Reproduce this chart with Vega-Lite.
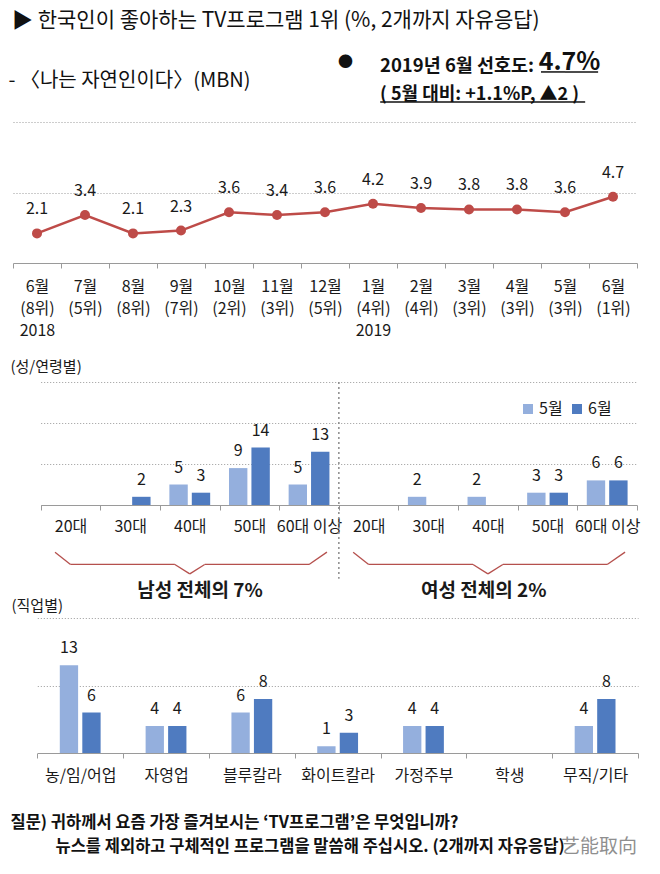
{
  "$schema": "https://vega.github.io/schema/vega-lite/v6.json",
  "background": "white",
  "padding": {"left": 8, "top": 10, "right": 4, "bottom": 4},
  "config": {
    "font": "Noto Sans CJK KR",
    "view": {"stroke": null},
    "axis": {"labelColor": "#1a1a1a", "domainColor": "#9a9a9a", "tickColor": "#9a9a9a", "gridColor": "#9a9a9a", "gridDash": [1, 2], "gridWidth": 1, "labelFontSize": 16, "titleColor": "#1a1a1a"},
    "text": {"color": "#1a1a1a"}
  },
  "title": {"text": "▶ 한국인이 좋아하는 TV프로그램 1위 (%, 2개까지 자유응답)", "anchor": "start", "frame": "bounds", "fontSize": 21, "fontWeight": "normal", "color": "#111", "dx": 4, "offset": 18},
  "bounds": "flush",
  "spacing": 113,
  "resolve": {"scale": {"x": "independent", "y": "independent", "color": "independent", "xOffset": "independent"}, "legend": {"color": "independent"}},
  "vconcat": [
    {
      "width": 624,
      "height": 141,
      "data": {"values": [
        {"period": "6월|(8위)|2018", "value": 2.1},
        {"period": "7월|(5위)", "value": 3.4},
        {"period": "8월|(8위)", "value": 2.1},
        {"period": "9월|(7위)", "value": 2.3},
        {"period": "10월|(2위)", "value": 3.6},
        {"period": "11월|(3위)", "value": 3.4},
        {"period": "12월|(5위)", "value": 3.6},
        {"period": "1월|(4위)|2019", "value": 4.2},
        {"period": "2월|(4위)", "value": 3.9},
        {"period": "3월|(3위)", "value": 3.8},
        {"period": "4월|(3위)", "value": 3.8},
        {"period": "5월|(3위)", "value": 3.6},
        {"period": "6월|(1위)", "value": 4.7}
      ]},
      "title": {"text": "2019년 6월 선호도:", "subtitle": "( 5월 대비: +1.1%P, ▲2 )", "anchor": "start", "frame": "group", "dx": 367, "fontSize": 18.5, "fontWeight": "bold", "color": "#111", "subtitleFontSize": 18, "subtitleFontWeight": "bold", "subtitleColor": "#111", "subtitlePadding": 11, "offset": -55},
      "resolve": {"axis": {"y": "independent"}},
      "encoding": {
        "x": {"field": "period", "type": "nominal", "sort": null,
          "scale": {"domain": ["6월|(8위)|2018", "7월|(5위)", "8월|(8위)", "9월|(7위)", "10월|(2위)", "11월|(3위)", "12월|(5위)", "1월|(4위)|2019", "2월|(4위)", "3월|(3위)", "4월|(3위)", "5월|(3위)", "6월|(1위)"], "paddingInner": 0, "paddingOuter": 0},
          "axis": {"labelExpr": "datum.value ? split(datum.value, '|') : ''", "labelAngle": 0, "labelLineHeight": 22, "labelPadding": 10, "tickSize": 5, "tickBand": "extent", "labelOverlap": false, "grid": false,
            "title": "4.7%", "titleX": 556, "titleY": -202, "titleAlign": "center", "titleBaseline": "middle", "titleFontSize": 25, "titleFontWeight": "bold", "titleColor": "#111"}},
        "y": {"field": "value", "type": "quantitative", "scale": {"domain": [0, 10], "nice": false},
          "axis": {"values": [5, 10], "labels": false, "ticks": false, "domain": false, "grid": true,
            "title": "- 〈나는 자연인이다〉(MBN)", "titleAngle": 0, "titleAlign": "left", "titleBaseline": "middle", "titleX": -5, "titleY": -42, "titleFontSize": 20, "titleFontWeight": "normal", "titleColor": "#111"}}
      },
      "layer": [
        {"layer": [
          {"mark": {"type": "line", "color": "#BE4B48", "strokeWidth": 2.5}},
          {"mark": {"type": "circle", "size": 100, "color": "#BE4B48", "opacity": 1}},
          {"transform": [{"filter": "datum.period === '6월|(1위)'"}],
           "mark": {"type": "rule", "color": "#111", "strokeWidth": 1.5},
           "encoding": {"x": {"datum": "5월|(3위)", "bandPosition": 0}, "x2": {"datum": "5월|(3위)"}, "y": {"datum": 13.55}}},
          {"transform": [{"filter": "datum.period === '6월|(1위)'"}],
           "mark": {"type": "rule", "color": "#111", "strokeWidth": 1.5},
           "encoding": {"x": {"datum": "6월|(1위)", "bandPosition": 0.19}, "x2": {"datum": "5월|(3위)"}, "y": {"datum": 13.55}}},
          {"transform": [{"filter": "datum.period === '6월|(1위)'"}],
           "mark": {"type": "rule", "color": "#111", "strokeWidth": 1.5},
           "encoding": {"x": {"datum": "1월|(4위)|2019", "bandPosition": 0.65}, "x2": {"datum": "5월|(3위)"}, "y": {"datum": 11.42}}},
          {"transform": [{"filter": "datum.period === '6월|(1위)'"}],
           "mark": {"type": "rule", "color": "#111", "strokeWidth": 1.5},
           "encoding": {"x": {"datum": "5월|(3위)", "bandPosition": 0.92}, "x2": {"datum": "5월|(3위)"}, "y": {"datum": 11.42}}}
        ]},
        {"mark": {"type": "text", "dy": -24, "fontSize": 16},
         "encoding": {
           "text": {"field": "value", "type": "quantitative", "format": ".1f"},
           "y": {"field": "value", "type": "quantitative",
             "axis": {"orient": "right", "labels": false, "ticks": false, "domain": false, "grid": false,
               "title": "●", "titleAngle": 0, "titleAlign": "center", "titleBaseline": "middle", "titleX": -292, "titleY": -61, "titleFontSize": 15, "titleColor": "#111"}}
         }}
      ]
    },
    {
      "width": 624,
      "height": 129,
      "data": {"values": [
        {"grp": "남성|20대", "month": "5월", "value": 0},
        {"grp": "남성|20대", "month": "6월", "value": 0},
        {"grp": "남성|30대", "month": "5월", "value": 0},
        {"grp": "남성|30대", "month": "6월", "value": 2},
        {"grp": "남성|40대", "month": "5월", "value": 5},
        {"grp": "남성|40대", "month": "6월", "value": 3},
        {"grp": "남성|50대", "month": "5월", "value": 9},
        {"grp": "남성|50대", "month": "6월", "value": 14},
        {"grp": "남성|60대 이상", "month": "5월", "value": 5},
        {"grp": "남성|60대 이상", "month": "6월", "value": 13},
        {"grp": "여성|20대", "month": "5월", "value": 0},
        {"grp": "여성|20대", "month": "6월", "value": 0},
        {"grp": "여성|30대", "month": "5월", "value": 2},
        {"grp": "여성|30대", "month": "6월", "value": 0},
        {"grp": "여성|40대", "month": "5월", "value": 2},
        {"grp": "여성|40대", "month": "6월", "value": 0},
        {"grp": "여성|50대", "month": "5월", "value": 3},
        {"grp": "여성|50대", "month": "6월", "value": 3},
        {"grp": "여성|60대 이상", "month": "5월", "value": 6},
        {"grp": "여성|60대 이상", "month": "6월", "value": 6}
      ]},
      "encoding": {
        "x": {"field": "grp", "type": "nominal", "sort": null,
          "scale": {"domain": ["남성|20대", "남성|30대", "남성|40대", "남성|50대", "남성|60대 이상", "여성|20대", "여성|30대", "여성|40대", "여성|50대", "여성|60대 이상"], "range": [27.7, 624], "paddingInner": 0, "paddingOuter": 0},
          "axis": {"labelExpr": "datum.value ? split(datum.value, '|')[1] : ''", "labelAngle": 0, "labelPadding": 8, "tickSize": 5, "tickBand": "extent", "labelOverlap": false, "labelBound": false, "grid": false, "title": null}},
        "y": {"field": "value", "type": "quantitative", "scale": {"domain": [0, 30], "range": [129, 6], "nice": false},
          "axis": {"values": [10, 20, 30], "labels": false, "ticks": false, "domain": false, "grid": true,
            "title": "(성/연령별)", "titleAngle": 0, "titleAlign": "left", "titleBaseline": "middle", "titleX": -3, "titleY": -10, "titleFontSize": 15, "titleFontWeight": "normal", "titleColor": "#1a1a1a"}}
      },
      "layer": [
        {"mark": {"type": "bar"},
         "encoding": {
           "xOffset": {"field": "month", "type": "nominal", "scale": {"domain": ["5월", "6월"], "paddingInner": 0.18, "paddingOuter": 0.42}},
           "color": {"field": "month", "type": "nominal", "scale": {"domain": ["5월", "6월"], "range": ["#94AFDD", "#4F7BC0"]},
             "legend": {"orient": "none", "legendX": 507, "legendY": 25, "direction": "horizontal", "title": null, "symbolType": "square", "symbolSize": 100, "symbolStrokeWidth": 0, "labelFontSize": 16, "labelColor": "#1a1a1a", "columnPadding": 6, "labelOffset": 3}}
         }},
        {"transform": [{"filter": "datum.value > 0"}],
         "mark": {"type": "text", "baseline": "bottom", "dy": -9, "fontSize": 16},
         "encoding": {
           "xOffset": {"field": "month", "type": "nominal"},
           "text": {"field": "value", "type": "quantitative"}
         }},
        {"transform": [{"filter": "datum.grp === '여성|20대' && datum.month === '5월'"}],
         "mark": {"type": "rule", "color": "#8a8a8a", "strokeDash": [2, 3], "strokeWidth": 1.5},
         "encoding": {"x": {"field": "grp", "type": "nominal", "bandPosition": 0}, "y": {"datum": 30}, "y2": {"datum": -18}}},
        {"transform": [{"filter": "datum.grp === '남성|20대' && datum.month === '5월'"}],
         "mark": {"type": "rule", "color": "#B5504D", "strokeWidth": 1.3},
         "encoding": {"x": {"datum": "남성|20대", "bandPosition": 0.24}, "x2": {"datum": "남성|20대"}, "y": {"datum": -11.5}, "y2": {"datum": -14.5}}},
        {"transform": [{"filter": "datum.grp === '남성|20대' && datum.month === '5월'"}],
         "mark": {"type": "rule", "color": "#B5504D", "strokeWidth": 1.3},
         "encoding": {"x": {"datum": "남성|40대", "bandPosition": 0.25}, "x2": {"datum": "남성|20대"}, "y": {"datum": -14.5}}},
        {"transform": [{"filter": "datum.grp === '남성|20대' && datum.month === '5월'"}],
         "mark": {"type": "rule", "color": "#B5504D", "strokeWidth": 1.3},
         "encoding": {"x": {"datum": "남성|40대", "bandPosition": 0.25}, "x2": {"datum": "남성|40대"}, "y": {"datum": -14.5}, "y2": {"datum": -16.8}}},
        {"transform": [{"filter": "datum.grp === '남성|20대' && datum.month === '5월'"}],
         "mark": {"type": "rule", "color": "#B5504D", "strokeWidth": 1.3},
         "encoding": {"x": {"datum": "남성|60대 이상", "bandPosition": 0.8}, "x2": {"datum": "남성|60대 이상"}, "y": {"datum": -11.5}, "y2": {"datum": -14.5}}},
        {"transform": [{"filter": "datum.grp === '남성|20대' && datum.month === '5월'"}],
         "mark": {"type": "rule", "color": "#B5504D", "strokeWidth": 1.3},
         "encoding": {"x": {"datum": "남성|40대", "bandPosition": 0.75}, "x2": {"datum": "남성|60대 이상"}, "y": {"datum": -14.5}}},
        {"transform": [{"filter": "datum.grp === '남성|20대' && datum.month === '5월'"}],
         "mark": {"type": "rule", "color": "#B5504D", "strokeWidth": 1.3},
         "encoding": {"x": {"datum": "남성|40대", "bandPosition": 0.75}, "x2": {"datum": "남성|40대"}, "y": {"datum": -14.5}, "y2": {"datum": -16.8}}},
        {"transform": [{"filter": "datum.grp === '남성|20대' && datum.month === '5월'"}],
         "mark": {"type": "rule", "color": "#B5504D", "strokeWidth": 1.3},
         "encoding": {"x": {"datum": "여성|20대", "bandPosition": 0.24}, "x2": {"datum": "여성|20대"}, "y": {"datum": -11.5}, "y2": {"datum": -14.5}}},
        {"transform": [{"filter": "datum.grp === '남성|20대' && datum.month === '5월'"}],
         "mark": {"type": "rule", "color": "#B5504D", "strokeWidth": 1.3},
         "encoding": {"x": {"datum": "여성|40대", "bandPosition": 0.25}, "x2": {"datum": "여성|20대"}, "y": {"datum": -14.5}}},
        {"transform": [{"filter": "datum.grp === '남성|20대' && datum.month === '5월'"}],
         "mark": {"type": "rule", "color": "#B5504D", "strokeWidth": 1.3},
         "encoding": {"x": {"datum": "여성|40대", "bandPosition": 0.25}, "x2": {"datum": "여성|40대"}, "y": {"datum": -14.5}, "y2": {"datum": -16.8}}},
        {"transform": [{"filter": "datum.grp === '남성|20대' && datum.month === '5월'"}],
         "mark": {"type": "rule", "color": "#B5504D", "strokeWidth": 1.3},
         "encoding": {"x": {"datum": "여성|60대 이상", "bandPosition": 0.8}, "x2": {"datum": "여성|60대 이상"}, "y": {"datum": -11.5}, "y2": {"datum": -14.5}}},
        {"transform": [{"filter": "datum.grp === '남성|20대' && datum.month === '5월'"}],
         "mark": {"type": "rule", "color": "#B5504D", "strokeWidth": 1.3},
         "encoding": {"x": {"datum": "여성|40대", "bandPosition": 0.75}, "x2": {"datum": "여성|60대 이상"}, "y": {"datum": -14.5}}},
        {"transform": [{"filter": "datum.grp === '남성|20대' && datum.month === '5월'"}],
         "mark": {"type": "rule", "color": "#B5504D", "strokeWidth": 1.3},
         "encoding": {"x": {"datum": "여성|40대", "bandPosition": 0.75}, "x2": {"datum": "여성|40대"}, "y": {"datum": -14.5}, "y2": {"datum": -16.8}}},
        {"transform": [{"filter": "datum.grp === '남성|40대' && datum.month === '5월'"}],
         "mark": {"type": "text", "fontSize": 19, "fontWeight": "bold", "baseline": "middle"},
         "encoding": {"x": {"field": "grp", "type": "nominal", "bandPosition": 0.67}, "y": {"datum": -21}, "text": {"value": "남성 전체의 7%"}}},
        {"transform": [{"filter": "datum.grp === '여성|40대' && datum.month === '5월'"}],
         "mark": {"type": "text", "fontSize": 19, "fontWeight": "bold", "baseline": "middle"},
         "encoding": {"x": {"field": "grp", "type": "nominal", "bandPosition": 0.43}, "y": {"datum": -21}, "text": {"value": "여성 전체의 2%"}}}
      ]
    },
    {
      "width": 624,
      "height": 135,
      "data": {"values": [
        {"job": "농/임/어업", "month": "5월", "value": 13},
        {"job": "농/임/어업", "month": "6월", "value": 6},
        {"job": "자영업", "month": "5월", "value": 4},
        {"job": "자영업", "month": "6월", "value": 4},
        {"job": "블루칼라", "month": "5월", "value": 6},
        {"job": "블루칼라", "month": "6월", "value": 8},
        {"job": "화이트칼라", "month": "5월", "value": 1},
        {"job": "화이트칼라", "month": "6월", "value": 3},
        {"job": "가정주부", "month": "5월", "value": 4},
        {"job": "가정주부", "month": "6월", "value": 4},
        {"job": "학생", "month": "5월", "value": 0},
        {"job": "학생", "month": "6월", "value": 0},
        {"job": "무직/기타", "month": "5월", "value": 4},
        {"job": "무직/기타", "month": "6월", "value": 8}
      ]},
      "title": {"text": "艺能取向", "orient": "bottom", "anchor": "end", "frame": "group", "font": "Noto Sans CJK SC", "fontSize": 19, "fontWeight": "normal", "color": "#8f8f8f", "dy": -21},
      "resolve": {"axis": {"y": "independent"}},
      "encoding": {
        "x": {"field": "job", "type": "nominal", "sort": null,
          "scale": {"domain": ["농/임/어업", "자영업", "블루칼라", "화이트칼라", "가정주부", "학생", "무직/기타"], "range": [24.3, 625], "paddingInner": 0, "paddingOuter": 0},
          "axis": {"labelExpr": "datum.value ? datum.value : ''", "labelAngle": 0, "labelPadding": 9, "tickSize": 5, "tickBand": "extent", "labelOverlap": false, "grid": false,
            "title": "질문) 귀하께서 요즘 가장 즐겨보시는 ‘TV프로그램’은 무엇입니까?",
            "titleX": -3, "titleY": 69, "titleAlign": "left", "titleBaseline": "middle", "titleFontSize": 16.5, "titleFontWeight": "bold", "titleColor": "#111"}},
        "y": {"field": "value", "type": "quantitative", "scale": {"domain": [0, 20], "nice": false},
          "axis": {"values": [10, 20], "labels": false, "ticks": false, "domain": false, "grid": true,
            "title": "(직업별)", "titleAngle": 0, "titleAlign": "left", "titleBaseline": "middle", "titleX": -2, "titleY": -13, "titleFontSize": 15, "titleFontWeight": "normal", "titleColor": "#1a1a1a"}}
      },
      "layer": [
        {"mark": {"type": "bar"},
         "encoding": {
           "xOffset": {"field": "month", "type": "nominal", "scale": {"domain": ["5월", "6월"], "paddingInner": 0.186, "paddingOuter": 1.09}},
           "color": {"field": "month", "type": "nominal", "scale": {"domain": ["5월", "6월"], "range": ["#94AFDD", "#4F7BC0"]}, "legend": null}
         }},
        {"transform": [{"filter": "datum.value > 0"}],
         "mark": {"type": "text", "baseline": "bottom", "dy": -9, "fontSize": 16},
         "encoding": {
           "xOffset": {"field": "month", "type": "nominal"},
           "text": {"field": "value", "type": "quantitative"},
           "y": {"field": "value", "type": "quantitative",
             "axis": {"orient": "right", "labels": false, "ticks": false, "domain": false, "grid": false,
               "title": "뉴스를 제외하고 구체적인 프로그램을 말씀해 주십시오. (2개까지 자유응답)", "titleAngle": 0, "titleAlign": "left", "titleBaseline": "middle", "titleX": -582, "titleY": 228, "titleFontSize": 16.5, "titleFontWeight": "bold", "titleColor": "#111"}}
         }}
      ]
    }
  ]
}
